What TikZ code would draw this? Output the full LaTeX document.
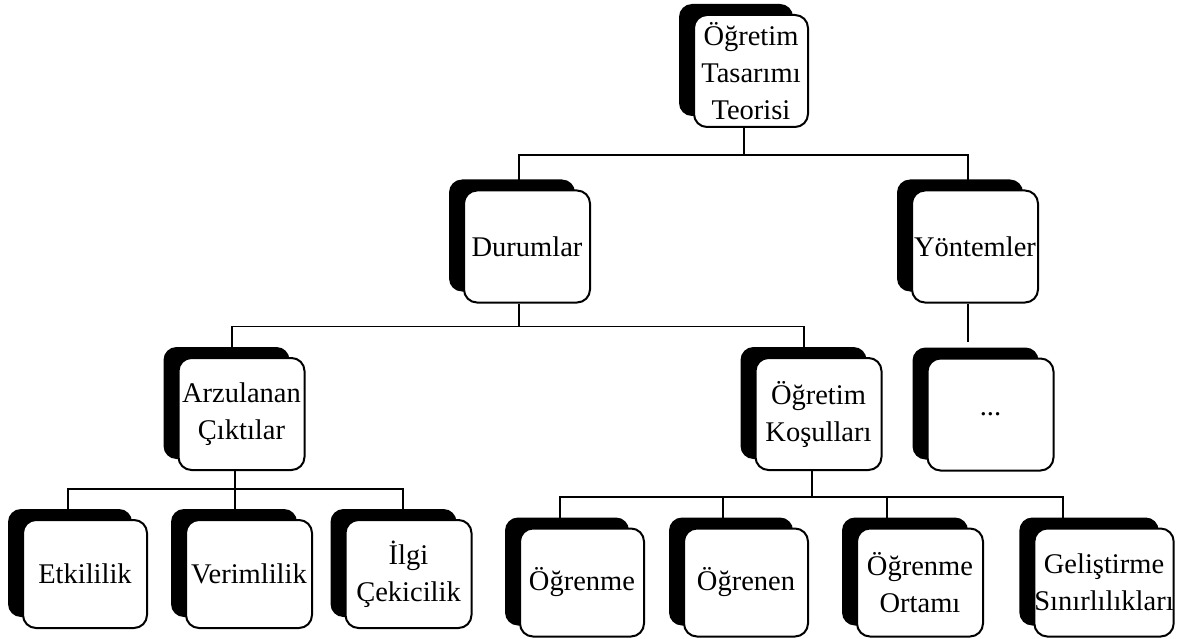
\documentclass[tikz,border=0pt]{standalone}
\usepackage{fontspec}
\setmainfont{Liberation Serif}
\usetikzlibrary{shadows}
\begin{document}
\begin{tikzpicture}[x=1pt,y=-1pt,
  cbox/.style={draw=black, line width=2pt, fill=white, rounded corners=13pt,
    minimum width=126pt, minimum height=112pt, inner sep=0pt, align=center,
    font=\fontsize{28.5pt}{37pt}\selectfont,
    general shadow={fill=black, shadow xshift=-15pt, shadow yshift=11pt}},
  lowbox/.style={cbox, minimum height=108pt},
  link/.style={line width=1.8pt}]
\useasboundingbox (0,0) rectangle (1178,639);

\node[cbox, minimum width=114pt] (top) at (751,71) {Öğretim\\Tasarımı\\Teorisi};
\node[cbox] (dur) at (527,246.5) {Durumlar};
\node[cbox] (yon) at (975,246.5) {Yöntemler};
\node[cbox] (arz) at (241.5,414) {Arzulanan\\Çıktılar};
\node[cbox] (kos) at (818.5,414) {Öğretim\\Koşulları};
\node[cbox] (dots) at (990.5,414.5) {...};
\node[lowbox, minimum width=124pt] (etk) at (85,574) {Etkililik};
\node[lowbox] (ver) at (249,574) {Verimlilik};
\node[lowbox] (ilg) at (408.5,574) {İlgi\\Çekicilik};
\node[lowbox, minimum width=124pt] (ogr) at (582,582.5) {Öğrenme};
\node[lowbox, minimum width=124pt] (ogn) at (746,582.5) {Öğrenen};
\node[lowbox] (ort) at (920,582.5) {Öğrenme\\Ortamı};
\node[lowbox, minimum width=138pt] (gel) at (1104,582.5) {Geliştirme\\Sınırlılıkları};

\draw[link] ([xshift=-7pt]top.south) -- ++(0,27) -| ([xshift=-8pt]dur.north);
\draw[link] ([xshift=-7pt]top.south) -- ++(0,27) -| ([xshift=-7pt]yon.north);

\draw[link] ([xshift=-8pt]dur.south) -- ++(0,23) -| ([xshift=-9.5pt]arz.north);
\draw[link] ([xshift=-8pt]dur.south) -- ++(0,23) -| ([xshift=-14.5pt]kos.north);

\draw[link] ([xshift=-7pt]yon.south) -- ([xshift=-22.5pt,yshift=16pt]dots.north);

\draw[link] ([xshift=-6.5pt]arz.south) -- ++(0,18) -| ([xshift=-17pt]etk.north);
\draw[link] ([xshift=-6.5pt]arz.south) -- ++(0,18) -| ([xshift=-14pt]ver.north);
\draw[link] ([xshift=-6.5pt]arz.south) -- ++(0,18) -| ([xshift=-5.5pt]ilg.north);

\draw[link] ([xshift=-6.5pt]kos.south) -- ++(0,26) -| ([xshift=-22pt]ogr.north);
\draw[link] ([xshift=-6.5pt]kos.south) -- ++(0,26) -| ([xshift=-23pt]ogn.north);
\draw[link] ([xshift=-6.5pt]kos.south) -- ++(0,26) -| ([xshift=-33pt]ort.north);
\draw[link] ([xshift=-6.5pt]kos.south) -- ++(0,26) -| ([xshift=-41pt]gel.north);
\end{tikzpicture}
\end{document}
